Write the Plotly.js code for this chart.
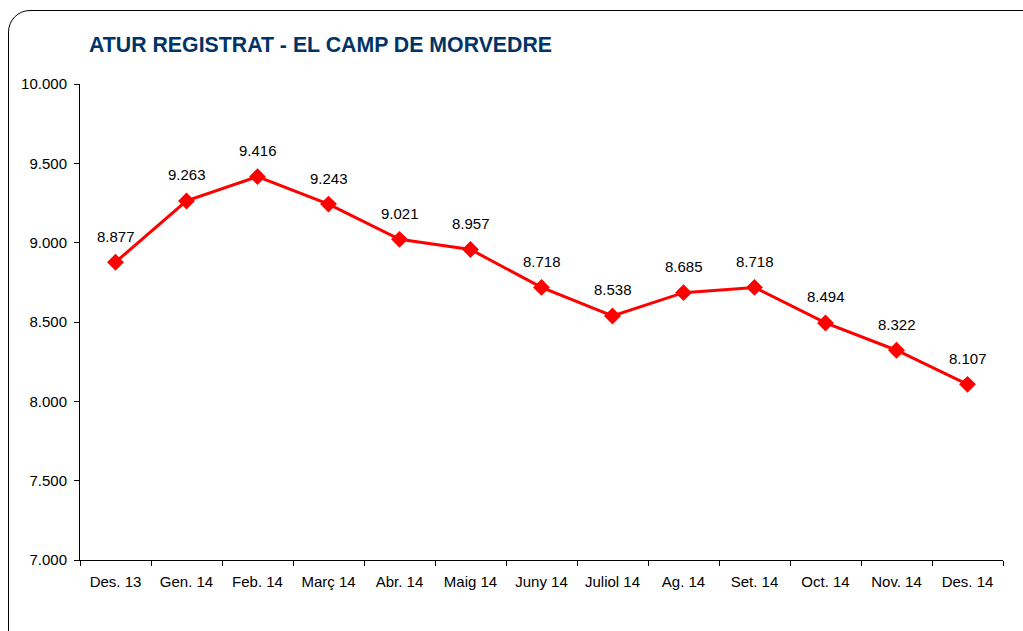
<!DOCTYPE html>
<html><head><meta charset="utf-8">
<script src="https://cdn.plot.ly/plotly-3.0.1.min.js"></script>
<style>
html,body{margin:0;padding:0;background:#fff;overflow:hidden;}
#wrap{position:relative;width:1023px;height:631px;}
#chart{position:absolute;left:0;top:0;width:1023px;height:631px;}
#frame{position:absolute;left:8px;top:10px;width:1040px;height:660px;border:1.5px solid #000;border-radius:22px;pointer-events:none;box-sizing:border-box;}
</style></head>
<body><div id="wrap"><div id="chart"></div><div id="frame"></div></div>
<script>
const categories = ["Des. 13","Gen. 14","Feb. 14","Març 14","Abr. 14","Maig 14","Juny 14","Juliol 14","Ag. 14","Set. 14","Oct. 14","Nov. 14","Des. 14"];
const values = [8877,9263,9416,9243,9021,8957,8718,8538,8685,8718,8494,8322,8107];
const yTicks = [7000,7500,8000,8500,9000,9500,10000];

function fmt(v){ return String(v).replace(/\B(?=(\d{3})+(?!\d))/g, "."); }

const trace = {
  x: categories, y: values, type: "scatter", mode: "lines+markers",
  line: {color: "#ff0000", width: 3},
  marker: {symbol: "diamond", size: 13, color: "#ff0000"},
  hoverinfo: "skip"
};
const annotations = categories.map((c,i)=>({
  x: c, y: values[i], text: fmt(values[i]), showarrow: false,
  yshift: 26, font: {family: "Liberation Sans, Arial", size: 15, color: "#000"}
}));
const layout = {
  width: 1023, height: 631,
  margin: {l: 80, r: 20, t: 84, b: 71},
  paper_bgcolor: "rgba(0,0,0,0)", plot_bgcolor: "rgba(0,0,0,0)",
  showlegend: false,
  separators: ",.",
  title: {text: "ATUR REGISTRAT - EL CAMP DE MORVEDRE", x: 89/1023, xanchor: "left", xref: "container", y: 1-45/631, yanchor: "middle", yref: "container",
    font: {family: "Liberation Sans, Arial", size: 21.3, color: "#003366", weight: "bold"}},
  font: {family: "Liberation Sans, Arial", size: 15, color: "#000"},
  xaxis: {type: "category", showline: true, linecolor: "#000", linewidth: 1, ticks: "outside", ticklen: 5, tickcolor: "#000",
    tickson: "boundaries", showgrid: false, zeroline: false, range: [-0.5, 12.5], tickfont: {size: 15}, ticklabelstandoff: 8},
  yaxis: {range: [7000, 10000], tickvals: yTicks, ticktext: yTicks.map(fmt), showline: true, linecolor: "#000", linewidth: 1,
    ticks: "outside", ticklen: 5, tickcolor: "#000", showgrid: false, zeroline: false, tickfont: {size: 15}, ticklabelstandoff: 4},
  annotations: annotations
};
Plotly.newPlot("chart", [trace], layout, {staticPlot: true, displayModeBar: false});
</script></body></html>
